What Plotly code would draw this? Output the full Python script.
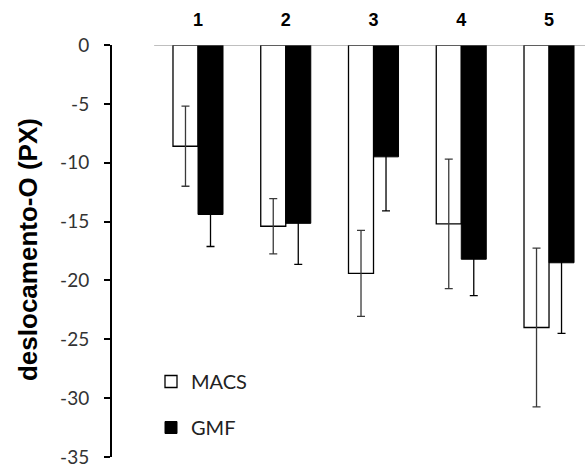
import plotly.graph_objects as go

categories = ["1", "2", "3", "4", "5"]
macs_values = [-8.6, -15.4, -19.4, -15.2, -24.0]
macs_errors = [3.4, 2.35, 3.65, 5.5, 6.75]
gmf_values = [-14.4, -15.15, -9.5, -18.2, -18.5]
gmf_errors = [2.72, 3.48, 4.6, 3.1, 6.0]
y_ticks = [0, -5, -10, -15, -20, -25, -30, -35]

W, H = 585, 467
ML, MR, MT, MB = 112, 0, 45, 10

fig = go.Figure()
fig.add_trace(go.Bar(
    x=categories, y=macs_values, name="MACS", legendgroup="a",
    marker=dict(color="white", line=dict(color="black", width=1.3)),
    error_y=dict(type="data", array=macs_errors, color="#3a3a3a", thickness=1.3, width=4),
))
fig.add_trace(go.Bar(
    x=categories, y=gmf_values, name="GMF", legendgroup="b",
    marker=dict(color="black", line=dict(color="black", width=1)),
    error_y=dict(type="data", array=gmf_errors, color="black", thickness=1.3, width=4),
))

# zero/category line at the top of the bars
fig.add_shape(type="line", xref="x", yref="y", x0=-0.5, x1=4.41, y0=0, y1=0,
              line=dict(color="#808080", width=1.2), layer="above")

fig.add_annotation(
    text="<b>deslocamento-O (PX)</b>", textangle=-90,
    xref="paper", yref="paper", x=(28 - ML) / (W - ML - MR), y=0.5024,
    xanchor="center", yanchor="middle", showarrow=False,
    font=dict(family="Liberation Sans, Arial", size=26, color="black"),
)

fig.update_layout(
    width=W, height=H,
    margin=dict(l=ML, r=MR, t=MT, b=MB, autoexpand=False),
    paper_bgcolor="white", plot_bgcolor="white",
    barmode="group", bargap=0.43, bargroupgap=0,
    showlegend=True,
    legend=dict(
        xref="container", yref="container", x=151 / W, y=1 - 362 / H,
        xanchor="left", yanchor="top", tracegroupgap=17, itemwidth=30,
        font=dict(family="Lato, Carlito, Calibri", size=20, color="#222"),
        bgcolor="rgba(0,0,0,0)",
    ),
    xaxis=dict(
        side="top", range=[-0.98, 4.41], showline=False, showgrid=False,
        zeroline=False, ticks="", ticklabelstandoff=14, automargin=False,
        tickfont=dict(family="Liberation Sans, Arial", size=18, color="black", weight="bold"),
    ),
    yaxis=dict(
        range=[-35.001, 0], tickvals=y_ticks, ticktext=[str(v) for v in y_ticks],
        showline=True, linecolor="black", linewidth=2, automargin=False,
        ticks="outside", ticklen=6, tickwidth=2, tickcolor="black",
        showgrid=False, zeroline=False, ticklabelstandoff=11,
        ticklabeloverflow="allow",
        tickfont=dict(family="Lato, Carlito, Calibri", size=19, color="#333"),
    ),
)

fig.write_html("out.html")
